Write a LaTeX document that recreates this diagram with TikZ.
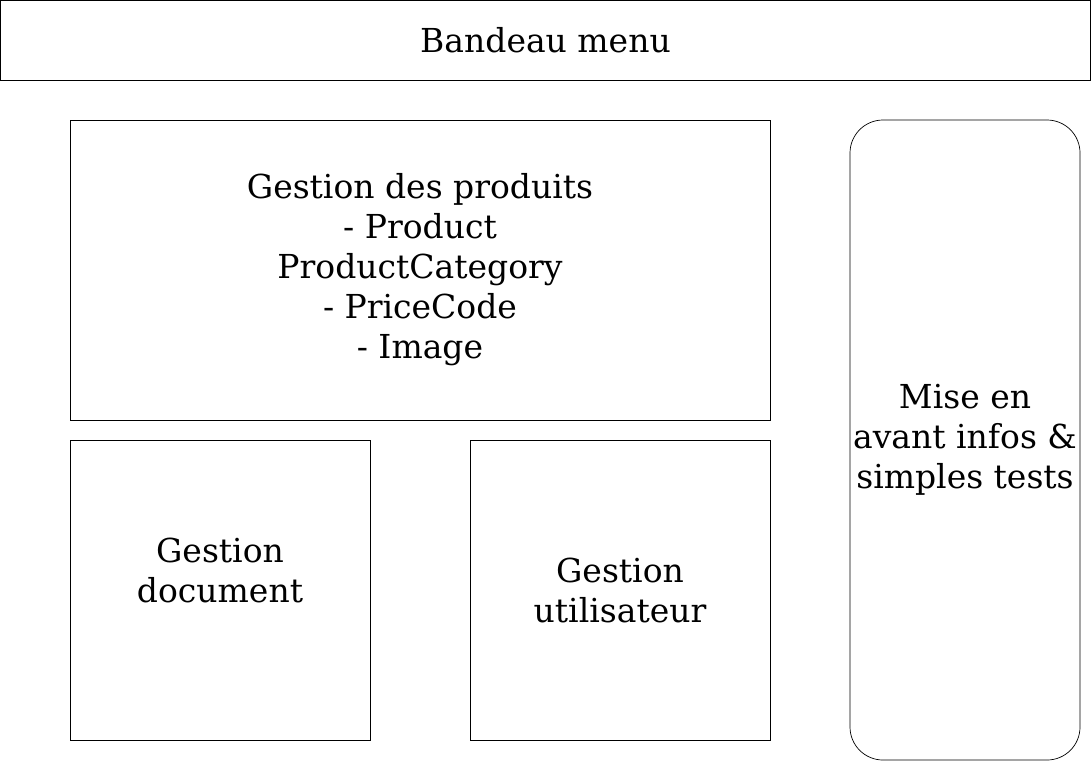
\documentclass[tikz,border=0pt]{standalone}
\usepackage{fontspec}
\setmainfont{DejaVu Serif}

\begin{document}
\begin{tikzpicture}[x=1pt,y=-1pt,
	every node/.style={font=\fontsize{33}{40}\selectfont, align=center, inner sep=0pt, line width=0.7pt},
	bloc/.style={draw, rectangle, minimum width=#1},
	colonne/.style={draw, rectangle, rounded corners=33pt, minimum width=230pt, minimum height=640pt}
	]
\useasboundingbox (0,0) rectangle (1091,761);

\node[bloc=1090pt, minimum height=80pt] (bandeau) at (545.5,40) {Bandeau menu};
\node[bloc=700pt, minimum height=300pt] (produits) at (420,270) {Gestion des produits\\- Product\\ProductCategory\\- PriceCode\\- Image};
\node[bloc=300pt, minimum height=300pt] (document) at (220,590) {Gestion\\document\\\mbox{}};
\node[bloc=300pt, minimum height=300pt] (utilisateur) at (620,590) {Gestion\\utilisateur};
\node[colonne] (infos) at (965,440) {Mise en\\avant infos \&\\simples tests};

\end{tikzpicture}
\end{document}
